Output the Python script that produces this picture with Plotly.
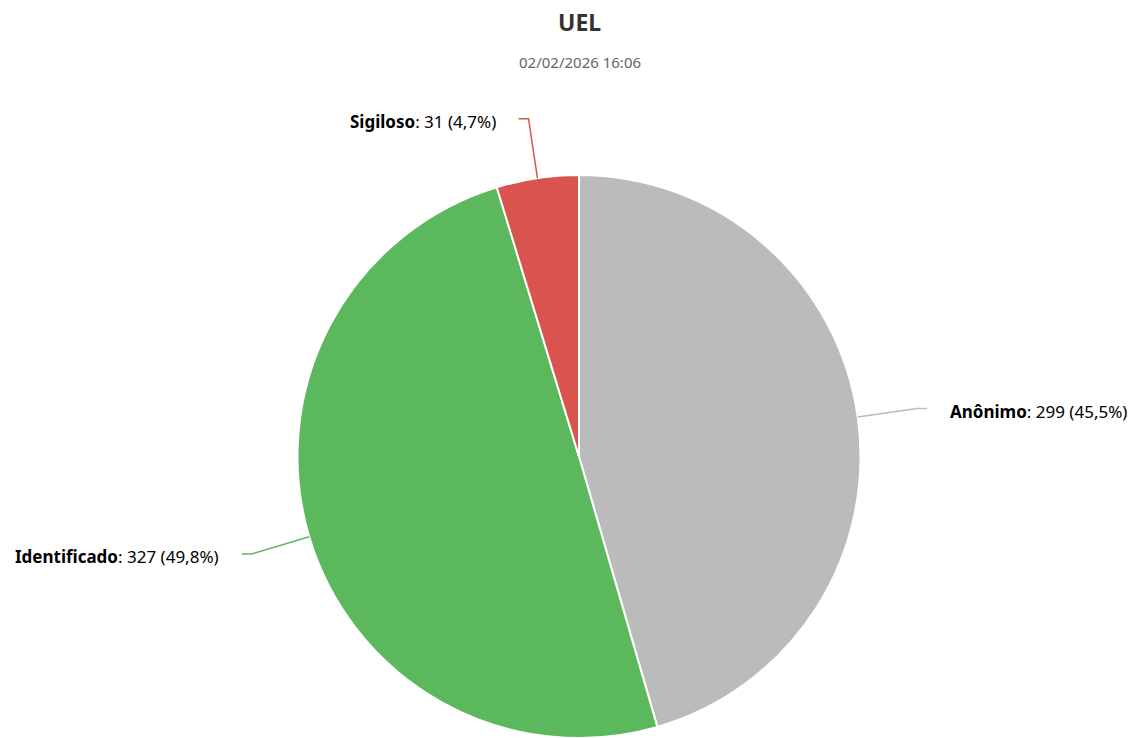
import math
import plotly.graph_objects as go

categories = ["Anônimo", "Identificado", "Sigiloso"]
values = [299, 327, 31]
colors = ["#bbbbbb", "#5cb85c", "#d9534f"]
title_text = "UEL"
subtitle_text = "02/02/2026 16:06"

W, H = 1133, 738
MT = 175
plot_h = H - MT
r = plot_h / 2.0
cx_px = 579.0
cy_px = MT + r
font_family = "Noto Sans, Open Sans, sans-serif"

def px_to_paper(x, y):
    return x / W, (H - y) / plot_h

dom_half = cx_px / W
dx = min(dom_half, 1 - dom_half)
fig = go.Figure(go.Pie(
    labels=categories,
    values=values,
    sort=False,
    direction="clockwise",
    rotation=0,
    marker=dict(colors=colors, line=dict(color="#ffffff", width=2)),
    textinfo="none",
    hoverinfo="label+value+percent",
    domain=dict(x=[dom_half - dx, dom_half + dx], y=[0, 1]),
    showlegend=False,
))

total = sum(values)
shapes = []
annotations = []
cum = 0
for cat, v, col in zip(categories, values, colors):
    frac = v / total
    mid = (cum + frac / 2) * 2 * math.pi
    cum += frac
    s, c = math.sin(mid), math.cos(mid)
    p0 = (cx_px + r * s, cy_px - r * c)
    p1 = (cx_px + (r + 60) * s, cy_px - (r + 60) * c)
    side = 1 if s >= 0 else -1
    p2 = (p1[0] + 10 * side, p1[1])
    pts = [px_to_paper(*p) for p in (p0, p1, p2)]
    path = "M {} {} L {} {} L {} {}".format(pts[0][0], pts[0][1], pts[1][0], pts[1][1], pts[2][0], pts[2][1])
    shapes.append(dict(type="path", xref="paper", yref="paper", path=path,
                       line=dict(color=col, width=1.5)))
    tx, ty = px_to_paper(p2[0] + 21 * side, p2[1] + 3)
    pct = f"{frac * 100:.1f}".replace(".", ",")
    annotations.append(dict(
        x=tx, y=ty, xref="paper", yref="paper", showarrow=False,
        xanchor="left" if side > 0 else "right", yanchor="middle",
        text=f"<b>{cat}</b>: {v} ({pct}%)",
        font=dict(family=font_family, size=17, color="#000000"),
    ))

tx, ty = px_to_paper(579.5, 22)
annotations.append(dict(x=tx, y=ty, xref="paper", yref="paper", showarrow=False,
                        xanchor="center", yanchor="middle", text=f"<b>{title_text}</b>",
                        font=dict(family=font_family, size=23, color="#333333")))
tx, ty = px_to_paper(579.5, 62)
annotations.append(dict(x=tx, y=ty, xref="paper", yref="paper", showarrow=False,
                        xanchor="center", yanchor="middle", text=subtitle_text,
                        font=dict(family=font_family, size=15, color="#666666")))

fig.update_layout(
    width=W, height=H,
    margin=dict(l=0, r=0, t=MT, b=0),
    paper_bgcolor="#ffffff",
    plot_bgcolor="#ffffff",
    shapes=shapes,
    annotations=annotations,
    font=dict(family=font_family),
)

fig.write_html("out.html",
               config={"displayModeBar": False},
               post_script="document.body.style.margin='0';document.body.style.overflow='hidden';")
